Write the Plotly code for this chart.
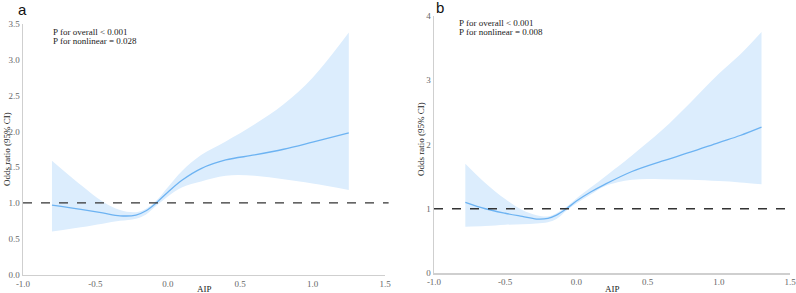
import plotly.graph_objects as go

W, H = 796, 293

# Panel a data
a_x     = [-0.80, -0.60, -0.45, -0.33, -0.22, -0.15, -0.08, 0.00, 0.10, 0.23, 0.40, 0.60, 0.80, 1.00, 1.25]
a_or    = [0.97, 0.91, 0.86, 0.82, 0.83, 0.89, 1.00, 1.15, 1.32, 1.48, 1.60, 1.67, 1.75, 1.85, 1.98]
a_upper = [1.59, 1.25, 1.02, 0.90, 0.87, 0.92, 1.03, 1.22, 1.45, 1.67, 1.86, 2.10, 2.38, 2.75, 3.38]
a_lower = [0.60, 0.66, 0.71, 0.75, 0.78, 0.84, 0.96, 1.09, 1.22, 1.30, 1.38, 1.38, 1.33, 1.27, 1.18]

# Panel b data
b_x     = [-0.78, -0.64, -0.50, -0.38, -0.28, -0.20, -0.14, -0.07, 0.00, 0.10, 0.20, 0.39, 0.60, 0.80, 1.00, 1.15, 1.30]
b_or    = [1.10, 1.00, 0.93, 0.88, 0.84, 0.85, 0.90, 1.00, 1.12, 1.26, 1.38, 1.58, 1.74, 1.88, 2.03, 2.14, 2.27]
b_upper = [1.70, 1.40, 1.15, 0.98, 0.90, 0.88, 0.93, 1.03, 1.16, 1.33, 1.50, 1.83, 2.22, 2.65, 3.10, 3.40, 3.75]
b_lower = [0.72, 0.73, 0.75, 0.76, 0.77, 0.79, 0.84, 0.97, 1.08, 1.22, 1.35, 1.45, 1.46, 1.45, 1.43, 1.41, 1.38]

x_ticks = [-1.0, -0.5, 0.0, 0.5, 1.0, 1.5]
a_yticks = [0.0, 0.5, 1.0, 1.5, 2.0, 2.5, 3.0, 3.5]
b_yticks = [0, 1, 2, 3, 4]

LINE = "#6db3f2"
FILL = "#dcedfd"
AXC = "#cfcfcf"
SERIF = "Liberation Serif, Times New Roman, serif"

fig = go.Figure()

def add_panel(x, orv, up, lo, xa, ya):
    fig.add_trace(go.Scatter(x=x, y=up, mode="lines", line=dict(width=0, shape="spline", color=FILL),
                             showlegend=False, hoverinfo="skip", xaxis=xa, yaxis=ya))
    fig.add_trace(go.Scatter(x=x, y=lo, mode="lines", line=dict(width=0, shape="spline", color=FILL),
                             fill="tonexty", fillcolor=FILL, showlegend=False, hoverinfo="skip",
                             xaxis=xa, yaxis=ya))
    fig.add_trace(go.Scatter(x=x, y=orv, mode="lines", line=dict(width=1.3, shape="spline", color=LINE),
                             showlegend=False, xaxis=xa, yaxis=ya))

add_panel(a_x, a_or, a_upper, a_lower, "x", "y")
add_panel(b_x, b_or, b_upper, b_lower, "x2", "y2")

axis_common = dict(showgrid=False, zeroline=False, showline=True, linecolor=AXC, linewidth=1.5,
                   ticks="", automargin=False, ticklabeloverflow="allow",
                   tickfont=dict(family=SERIF, size=9, color="#666666"))

fig.update_layout(
    width=W, height=H, margin=dict(l=0, r=0, t=0, b=0, autoexpand=False),
    plot_bgcolor="white", paper_bgcolor="white",
    xaxis=dict(domain=[23/W, 385/W], range=[-1.0, 1.5], tickvals=x_ticks,
               ticktext=[f"{v:.1f}" for v in x_ticks], anchor="y", **axis_common),
    yaxis=dict(domain=[1-274.5/H, 1-24/H], range=[0, 3.5], tickvals=a_yticks,
               ticktext=[f"{v:.1f}" for v in a_yticks], anchor="x", **axis_common),
    xaxis2=dict(domain=[434/W, 790/W], range=[-1.0, 1.5], tickvals=x_ticks,
                ticktext=[f"{v:.1f}" for v in x_ticks], anchor="y2", **axis_common),
    yaxis2=dict(domain=[1-273/H, 1-16/H], range=[0, 4], tickvals=b_yticks,
                ticktext=[str(v) for v in b_yticks], anchor="x2", **axis_common),
)

for xref, yref in [("x domain", "y"), ("x2 domain", "y2")]:
    fig.add_shape(type="line", xref=xref, yref=yref, x0=0, x1=1.01, y0=1, y1=1,
                  line=dict(color="#333333", width=1.3, dash="dash"))

def ann(text, x, y, size, family, color="#222222", angle=0, xanchor="left"):
    fig.add_annotation(text=text, x=x/W, y=1-y/H, xref="paper", yref="paper", showarrow=False,
                       xanchor=xanchor, yanchor="middle", textangle=angle,
                       font=dict(size=size, family=family, color=color))

ann("a", 16, 9, 15, "Liberation Sans, Arial, sans-serif", "#111111")
ann("b", 434, 8, 15, "Liberation Sans, Arial, sans-serif", "#111111")
ann("P for overall < 0.001", 51, 32, 9, SERIF)
ann("P for nonlinear = 0.028", 51, 41, 9, SERIF)
ann("P for overall < 0.001", 457, 23, 9, SERIF)
ann("P for nonlinear = 0.008", 457, 32, 9, SERIF)
ann("AIP", 205, 289, 9, SERIF, xanchor="center")
ann("AIP", 612, 289, 9, SERIF, xanchor="center")
ann("Odds ratio (95% CI)", 0, 149, 9, SERIF, angle=-90)
ann("Odds ratio (95% CI)", 414, 139, 9, SERIF, angle=-90)

fig.write_html("out.html", config={"displayModeBar": False, "staticPlot": True},
               post_script="document.body.style.margin='0';document.body.style.overflow='hidden';")
